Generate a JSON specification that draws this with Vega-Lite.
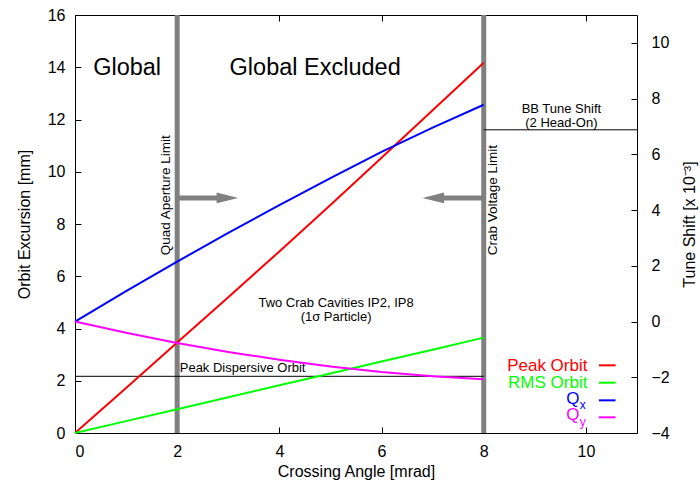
{
  "$schema": "https://vega.github.io/schema/vega-lite/v6.json",
  "width": 562,
  "height": 418,
  "autosize": "none",
  "padding": {"left": 75, "top": 15, "right": 63, "bottom": 55},
  "background": "white",
  "config": {
    "font": "Liberation Sans",
    "view": {"stroke": "#000000", "strokeWidth": 1},
    "axis": {
      "domain": false,
      "grid": false,
      "tickColor": "#000000",
      "tickSize": -6,
      "labelFontSize": 16,
      "labelColor": "#000000",
      "titleFontSize": 16,
      "titleFontWeight": "normal",
      "titleColor": "#000000",
      "labelFont": "Liberation Sans",
      "titleFont": "Liberation Sans"
    },
    "text": {"font": "Liberation Sans"}
  },
  "datasets": {
    "orbit": [
      {"x": 0, "y": 0, "series": "Peak Orbit"},
      {"x": 1, "y": 1.72, "series": "Peak Orbit"},
      {"x": 2, "y": 3.46, "series": "Peak Orbit"},
      {"x": 3, "y": 5.2, "series": "Peak Orbit"},
      {"x": 4, "y": 6.95, "series": "Peak Orbit"},
      {"x": 5, "y": 8.73, "series": "Peak Orbit"},
      {"x": 6, "y": 10.54, "series": "Peak Orbit"},
      {"x": 7, "y": 12.35, "series": "Peak Orbit"},
      {"x": 8, "y": 14.17, "series": "Peak Orbit"},
      {"x": 0, "y": 0, "series": "RMS Orbit"},
      {"x": 1, "y": 0.455, "series": "RMS Orbit"},
      {"x": 2, "y": 0.91, "series": "RMS Orbit"},
      {"x": 3, "y": 1.37, "series": "RMS Orbit"},
      {"x": 4, "y": 1.83, "series": "RMS Orbit"},
      {"x": 5, "y": 2.28, "series": "RMS Orbit"},
      {"x": 6, "y": 2.74, "series": "RMS Orbit"},
      {"x": 7, "y": 3.19, "series": "RMS Orbit"},
      {"x": 8, "y": 3.65, "series": "RMS Orbit"}
    ],
    "tune": [
      {"x": 0, "y": 0, "series": "Qx"},
      {"x": 1, "y": 1.09, "series": "Qx"},
      {"x": 2, "y": 2.15, "series": "Qx"},
      {"x": 3, "y": 3.18, "series": "Qx"},
      {"x": 4, "y": 4.18, "series": "Qx"},
      {"x": 5, "y": 5.15, "series": "Qx"},
      {"x": 6, "y": 6.09, "series": "Qx"},
      {"x": 7, "y": 6.96, "series": "Qx"},
      {"x": 8, "y": 7.78, "series": "Qx"},
      {"x": 0, "y": 0, "series": "Qy"},
      {"x": 1, "y": -0.4, "series": "Qy"},
      {"x": 2, "y": -0.77, "series": "Qy"},
      {"x": 3, "y": -1.09, "series": "Qy"},
      {"x": 4, "y": -1.37, "series": "Qy"},
      {"x": 5, "y": -1.61, "series": "Qy"},
      {"x": 6, "y": -1.81, "series": "Qy"},
      {"x": 7, "y": -1.96, "series": "Qy"},
      {"x": 8, "y": -2.07, "series": "Qy"}
    ]
  },
  "layer": [
    {
      "layer": [
        {
          "data": {"values": [{"x": 2}, {"x": 8}]},
          "mark": {"type": "rule", "color": "#808080", "strokeWidth": 5},
          "encoding": {
            "x": {"field": "x", "type": "quantitative", "scale": {"domain": [0, 11], "nice": false}, "axis": {"orient": "bottom", "values": [0, 2, 4, 6, 8, 10], "title": "Crossing Angle [mrad]", "labelPadding": 16, "titlePadding": 4}}
          }
        },
        {
          "data": {"values": [{"x": 2, "x2": 2.78, "y": 9}, {"x": 7.2, "x2": 8, "y": 9}]},
          "mark": {"type": "rule", "color": "#808080", "strokeWidth": 5},
          "encoding": {
            "x": {"field": "x", "type": "quantitative"},
            "x2": {"field": "x2"},
            "y": {"field": "y", "type": "quantitative", "scale": {"domain": [0, 16], "nice": false}, "axis": {"orient": "left", "values": [0, 2, 4, 6, 8, 10, 12, 14, 16], "title": "Orbit Excursion [mm]", "labelPadding": 16, "titlePadding": 15}}
          }
        },
        {
          "data": {"values": [{"x": 2.984, "y": 9}]},
          "mark": {"type": "point", "shape": "M-1,-0.49L1,0L-1,0.49Z", "size": 467, "filled": true, "color": "#808080", "opacity": 1},
          "encoding": {"x": {"field": "x", "type": "quantitative"}, "y": {"field": "y", "type": "quantitative"}}
        },
        {
          "data": {"values": [{"x": 7.012, "y": 9}]},
          "mark": {"type": "point", "shape": "M1,-0.49L-1,0L1,0.49Z", "size": 467, "filled": true, "color": "#808080", "opacity": 1},
          "encoding": {"x": {"field": "x", "type": "quantitative"}, "y": {"field": "y", "type": "quantitative"}}
        },
        {
          "data": {"values": [{"x": 0, "x2": 8, "y": 2.17}]},
          "mark": {"type": "rule", "color": "#000000", "strokeWidth": 1},
          "encoding": {"x": {"field": "x", "type": "quantitative"}, "x2": {"field": "x2"}, "y": {"field": "y", "type": "quantitative"}}
        },
        {
          "data": {"name": "orbit"},
          "mark": {"type": "line", "strokeWidth": 2},
          "encoding": {
            "x": {"field": "x", "type": "quantitative"},
            "y": {"field": "y", "type": "quantitative"},
            "color": {"field": "series", "type": "nominal", "scale": {"domain": ["Peak Orbit", "RMS Orbit", "Qx", "Qy"], "range": ["#ff0000", "#00ff00", "#0000ff", "#ff00ff"]}, "legend": null}
          }
        },
        {
          "data": {"values": [{"x": 1.02, "y": 13.7, "text": "Global"}, {"x": 4.7, "y": 13.7, "text": "Global Excluded"}]},
          "mark": {"type": "text", "fontSize": 23.5, "align": "center", "baseline": "alphabetic", "color": "#000000"},
          "encoding": {"x": {"field": "x", "type": "quantitative"}, "y": {"field": "y", "type": "quantitative"}, "text": {"field": "text"}}
        },
        {
          "data": {"values": [
            {"x": 9.52, "y": 12.25, "text": "BB Tune Shift"},
            {"x": 9.52, "y": 11.72, "text": "(2 Head-On)"},
            {"x": 5.11, "y": 4.83, "text": "Two Crab Cavities IP2, IP8"},
            {"x": 5.11, "y": 4.3, "text": "(1σ Particle)"}
          ]},
          "mark": {"type": "text", "fontSize": 13, "align": "center", "baseline": "alphabetic", "color": "#000000"},
          "encoding": {"x": {"field": "x", "type": "quantitative"}, "y": {"field": "y", "type": "quantitative"}, "text": {"field": "text"}}
        },
        {
          "data": {"values": [{"x": 2.05, "y": 2.32, "text": "Peak Dispersive Orbit"}]},
          "mark": {"type": "text", "fontSize": 13, "align": "left", "baseline": "alphabetic", "color": "#000000"},
          "encoding": {"x": {"field": "x", "type": "quantitative"}, "y": {"field": "y", "type": "quantitative"}, "text": {"field": "text"}}
        },
        {
          "data": {"values": [{"x": 1.86, "y": 6.8, "text": "Quad Aperture Limit"}, {"x": 8.26, "y": 6.8, "text": "Crab Voltage Limit"}]},
          "mark": {"type": "text", "fontSize": 13.5, "align": "left", "baseline": "alphabetic", "angle": 270, "color": "#000000"},
          "encoding": {"x": {"field": "x", "type": "quantitative"}, "y": {"field": "y", "type": "quantitative"}, "text": {"field": "text"}}
        },
        {
          "data": {"values": [
            {"x": 10.03, "y": 2.38, "text": "Peak Orbit", "series": "Peak Orbit"},
            {"x": 10.03, "y": 1.71, "text": "RMS Orbit", "series": "RMS Orbit"},
            {"x": 9.873, "y": 1.11, "text": "Q", "series": "Qx"},
            {"x": 9.873, "y": 0.48, "text": "Q", "series": "Qy"}
          ]},
          "mark": {"type": "text", "fontSize": 17, "align": "right", "baseline": "alphabetic"},
          "encoding": {
            "x": {"field": "x", "type": "quantitative"},
            "y": {"field": "y", "type": "quantitative"},
            "text": {"field": "text"},
            "color": {"field": "series", "type": "nominal", "legend": null}
          }
        },
        {
          "data": {"values": [
            {"x": 9.88, "y": 0.9, "text": "x", "series": "Qx"},
            {"x": 9.88, "y": 0.25, "text": "y", "series": "Qy"}
          ]},
          "mark": {"type": "text", "fontSize": 12, "align": "left", "baseline": "alphabetic"},
          "encoding": {
            "x": {"field": "x", "type": "quantitative"},
            "y": {"field": "y", "type": "quantitative"},
            "text": {"field": "text"},
            "color": {"field": "series", "type": "nominal", "legend": null}
          }
        },
        {
          "data": {"values": [
            {"x": 10.254, "x2": 10.58, "y": 2.59, "series": "Peak Orbit"},
            {"x": 10.254, "x2": 10.58, "y": 1.925, "series": "RMS Orbit"},
            {"x": 10.254, "x2": 10.58, "y": 1.25, "series": "Qx"},
            {"x": 10.254, "x2": 10.58, "y": 0.6, "series": "Qy"}
          ]},
          "mark": {"type": "rule", "strokeWidth": 2},
          "encoding": {
            "x": {"field": "x", "type": "quantitative"},
            "x2": {"field": "x2"},
            "y": {"field": "y", "type": "quantitative"},
            "color": {"field": "series", "type": "nominal", "legend": null}
          }
        }
      ]
    },
    {
      "layer": [
        {
          "data": {"name": "tune"},
          "mark": {"type": "line", "strokeWidth": 2},
          "encoding": {
            "x": {"field": "x", "type": "quantitative", "axis": {"orient": "top", "values": [0, 2, 4, 6, 8, 10], "labels": false, "title": null}},
            "y": {"field": "y", "type": "quantitative", "scale": {"domain": [-4, 11], "nice": false}, "axis": {"orient": "right", "values": [-4, -2, 0, 2, 4, 6, 8, 10], "title": "Tune Shift [x 10⁻³]", "titleAngle": 270, "titleBaseline": "top", "labelPadding": 20, "titlePadding": 12}},
            "color": {"field": "series", "type": "nominal", "legend": null}
          }
        },
        {
          "data": {"values": [{"x": 8, "x2": 11, "y": 6.88}]},
          "mark": {"type": "rule", "color": "#000000", "strokeWidth": 1},
          "encoding": {"x": {"field": "x", "type": "quantitative"}, "x2": {"field": "x2"}, "y": {"field": "y", "type": "quantitative"}}
        }
      ]
    }
  ],
  "resolve": {"scale": {"y": "independent"}, "axis": {"x": "independent"}}
}
